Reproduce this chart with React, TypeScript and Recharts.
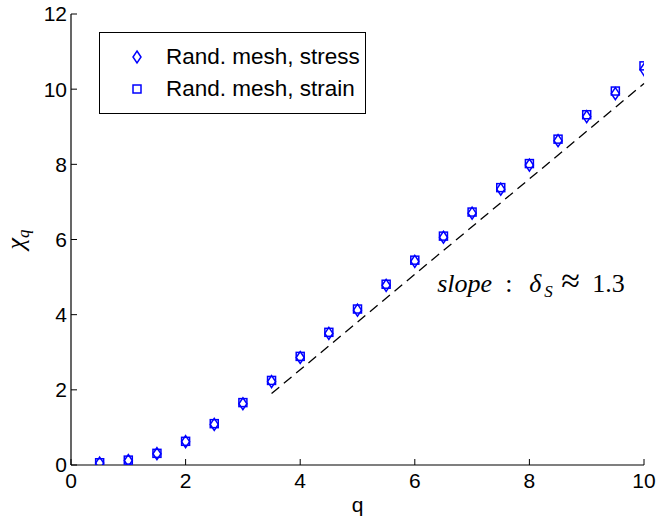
import React from 'react';
import {
  ScatterChart,
  Scatter,
  XAxis,
  YAxis,
  ReferenceLine,
  ReferenceDot,
  Legend,
  Label,
} from 'recharts';

const qValues = [0.5, 1, 1.5, 2, 2.5, 3, 3.5, 4, 4.5, 5, 5.5, 6, 6.5, 7, 7.5, 8, 8.5, 9, 9.5, 10];
const stressValues = [0.05, 0.12, 0.3, 0.62, 1.08, 1.63, 2.22, 2.86, 3.5, 4.12, 4.78, 5.42, 6.06, 6.7, 7.34, 7.98, 8.63, 9.27, 9.88, 10.52];
const strainValues = [0.06, 0.13, 0.31, 0.63, 1.1, 1.66, 2.25, 2.89, 3.53, 4.15, 4.81, 5.45, 6.09, 6.73, 7.38, 8.02, 8.67, 9.32, 9.95, 10.62];
const xTicks = [0, 2, 4, 6, 8, 10];
const yTicks = [0, 2, 4, 6, 8, 10, 12];
const slopeLine = [
  { x: 3.5, y: 1.9 },
  { x: 10, y: 10.15 },
];
const annotationPos = { x: 6.39, y: 4.6 };

const stressData = qValues.map((q, i) => ({ x: q, y: stressValues[i] }));
const strainData = qValues.map((q, i) => ({ x: q, y: strainValues[i] }));

const BLUE = '#0000ff';
const SANS = '"Liberation Sans", Arial, Helvetica, sans-serif';
const SERIF = '"Liberation Serif", "DejaVu Serif", serif';

const Diamond = (props: any) => {
  const { cx, cy } = props;
  if (cx == null || cy == null) return null;
  return (
    <path
      d={`M${cx},${cy - 6} L${cx + 4},${cy} L${cx},${cy + 6} L${cx - 4},${cy} Z`}
      fill="none"
      stroke={BLUE}
      strokeWidth={1.5}
    />
  );
};

const Square = (props: any) => {
  const { cx, cy } = props;
  if (cx == null || cy == null) return null;
  return <rect x={cx - 4} y={cy - 4} width={8} height={8} fill="none" stroke={BLUE} strokeWidth={1.5} />;
};

const EmptyTick = () => <g />;

const LegendContent = () => (
  <div
    style={{
      width: 267,
      height: 82,
      boxSizing: 'border-box',
      border: '1px solid #000',
      background: '#fff',
      fontFamily: SANS,
      fontSize: 22.5,
      color: '#000',
      position: 'relative',
    }}
  >
    {[
      { name: 'Rand. mesh, stress', Shape: Diamond },
      { name: 'Rand. mesh, strain', Shape: Square },
    ].map((e, i) => (
      <div
        key={e.name}
        style={{ position: 'absolute', left: 0, top: 9 + i * 32, height: 30, display: 'flex', alignItems: 'center' }}
      >
        <svg width={66} height={30} style={{ display: 'block' }}>
          <e.Shape cx={37} cy={15} />
        </svg>
        <span style={{ whiteSpace: 'nowrap', lineHeight: '30px' }}>{e.name}</span>
      </div>
    ))}
  </div>
);

const YLabel = (props: any) => {
  const vb = props.viewBox || { x: 0, y: 14, width: 71, height: 451 };
  const cx = 24;
  const cy = vb.y + vb.height / 2;
  return (
    <text
      x={cx}
      y={cy}
      transform={`rotate(-90, ${cx}, ${cy})`}
      textAnchor="middle"
      fontFamily={SERIF}
      fill="#000"
    >
      <tspan fontStyle="italic" fontSize={26}>χ</tspan>
      <tspan fontStyle="italic" fontSize={17} dy={5}>q</tspan>
    </text>
  );
};

const XLabel = (props: any) => {
  const vb = props.viewBox || { x: 71, y: 465, width: 573, height: 62 };
  return (
    <text x={vb.x + vb.width / 2} y={512} textAnchor="middle" fontFamily={SANS} fontSize={21} fill="#000">
      q
    </text>
  );
};

const Annotation = (props: any) => {
  const vb = props.viewBox || { x: 0, y: 0 };
  const x = vb.x + (vb.width || 0) / 2;
  const y = vb.y + (vb.height || 0) / 2;
  return (
    <text x={x} y={y} fontFamily={SERIF} fontSize={26} fill="#000">
      <tspan x={x} fontStyle="italic">slope</tspan>
      <tspan x={x + 68}>:</tspan>
      <tspan x={x + 92} fontStyle="italic">δ</tspan>
      <tspan x={x + 107} fontStyle="italic" fontSize={17} dy={5}>S</tspan>
      <tspan x={x + 124} dy={-5} fontSize={34}>≈</tspan>
      <tspan x={x + 155}>1.3</tspan>
    </text>
  );
};

const axisTickStyle = { fill: '#000', fontSize: 21, fontFamily: SANS };

export default function App() {
  return (
    <div style={{ position: 'absolute', left: 0, top: 0, width: 657, height: 527, background: '#fff' }}>
      <ScatterChart width={657} height={527} margin={{ top: 14, right: 13, bottom: 0, left: 0 }}>
        <XAxis
          xAxisId={0}
          type="number"
          dataKey="x"
          domain={[0, 10]}
          ticks={xTicks}
          allowDataOverflow
          height={62}
          tickSize={-6}
          tickMargin={14}
          tick={axisTickStyle}
          axisLine={{ stroke: '#000', strokeWidth: 1.2 }}
          tickLine={{ stroke: '#000' }}
        >
          <Label content={XLabel} />
        </XAxis>
        <XAxis
          xAxisId="top"
          orientation="top"
          type="number"
          dataKey="x"
          domain={[0, 10]}
          ticks={xTicks}
          allowDataOverflow
          height={0}
          tickSize={-6}
          tick={EmptyTick}
          axisLine={{ stroke: '#000', strokeWidth: 1.2 }}
          tickLine={{ stroke: '#000' }}
        />
        <YAxis
          yAxisId={0}
          type="number"
          dataKey="y"
          domain={[0, 12]}
          ticks={yTicks}
          allowDataOverflow
          width={71}
          tickSize={-6}
          tickMargin={10}
          tick={axisTickStyle}
          axisLine={{ stroke: '#000', strokeWidth: 1.2 }}
          tickLine={{ stroke: '#000' }}
        >
          <Label content={YLabel} />
        </YAxis>
        <YAxis
          yAxisId="right"
          orientation="right"
          type="number"
          dataKey="y"
          domain={[0, 12]}
          ticks={yTicks}
          allowDataOverflow
          width={0}
          tickSize={-6}
          tick={EmptyTick}
          axisLine={{ stroke: '#000', strokeWidth: 1.2 }}
          tickLine={{ stroke: '#000' }}
        />
        <ReferenceLine
          xAxisId={0}
          yAxisId={0}
          segment={slopeLine}
          stroke="#000"
          strokeWidth={1.3}
          strokeDasharray="10 6"
          ifOverflow="visible"
        />
        <Scatter
          name="Rand. mesh, stress"
          data={stressData}
          xAxisId={0}
          yAxisId={0}
          shape={Diamond}
          isAnimationActive={false}
        />
        <Scatter
          name="Rand. mesh, strain"
          data={strainData}
          xAxisId={0}
          yAxisId={0}
          shape={Square}
          isAnimationActive={false}
        />
        <ReferenceDot
          xAxisId={0}
          yAxisId={0}
          x={annotationPos.x}
          y={annotationPos.y}
          r={0}
          fill="none"
          stroke="none"
          ifOverflow="visible"
          label={<Annotation />}
        />
        <Legend
          layout="horizontal"
          verticalAlign="middle"
          align="center"
          content={LegendContent}
          wrapperStyle={{ left: 99, top: 32, width: 267, height: 82 }}
        />
      </ScatterChart>
    </div>
  );
}
